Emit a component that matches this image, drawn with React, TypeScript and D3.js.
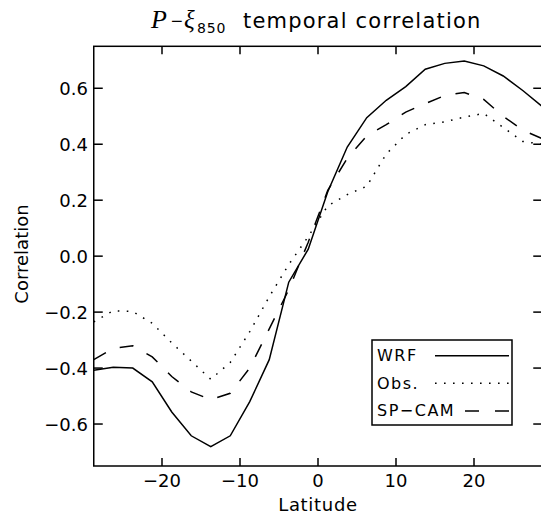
import React from "react";
import * as d3 from "d3";

const latitudes = [-28.75, -26.25, -23.75, -21.25, -18.75, -16.25, -13.75, -11.25, -8.75, -6.25, -3.75, -1.25, 1.25, 3.75, 6.25, 8.75, 11.25, 13.75, 16.25, 18.75, 21.25, 23.75, 26.25, 28.75];
const wrf = [-0.408, -0.397, -0.4, -0.449, -0.557, -0.642, -0.681, -0.642, -0.52, -0.37, -0.093, 0.025, 0.23, 0.39, 0.495, 0.557, 0.606, 0.668, 0.689, 0.697, 0.68, 0.644, 0.592, 0.535];
const obs = [-0.235, -0.195, -0.198, -0.24, -0.31, -0.375, -0.44, -0.38, -0.27, -0.145, -0.03, 0.07, 0.18, 0.22, 0.25, 0.365, 0.435, 0.47, 0.48, 0.497, 0.51, 0.46, 0.41, 0.4];
const spcam = [-0.37, -0.33, -0.32, -0.36, -0.43, -0.485, -0.513, -0.49, -0.4, -0.26, -0.12, 0.05, 0.235, 0.35, 0.43, 0.47, 0.515, 0.545, 0.574, 0.585, 0.56, 0.5, 0.45, 0.42];

const xTicks = [-20, -10, 0, 10, 20];
const yTicks = [-0.6, -0.4, -0.2, 0.0, 0.2, 0.4, 0.6];
const seriesNames = ["WRF", "Obs.", "SP\u2212CAM"];

const W = 541, H = 515;
const left = 93.75, right = 542.25, top = 46.3, bottom = 466;
const FONT = "DejaVu Sans";

export default function App() {
  const x = d3.scaleLinear().domain([-28.75, 28.75]).range([left, right]);
  const y = d3.scaleLinear().domain([-0.75, 0.75]).range([bottom, top]);
  const line = d3.line<number>().x((_, i) => x(latitudes[i])).y((d) => y(d));
  const fmt = (v: number) => {
    const s = Math.abs(v).toFixed(1);
    return (v < -1e-9 ? "\u2212" : "") + s;
  };
  const fmtX = (v: number) => (v < 0 ? "\u2212" + Math.abs(v) : String(v));
  const styles = [
    { dash: undefined as string | undefined },
    { dash: "1.6,7.4" },
    { dash: "14,15" },
  ];
  const data = [wrf, obs, spcam];
  return (
    <svg width={W} height={H} style={{ position: "absolute", left: 0, top: 0, background: "#fff" }}>
      <rect x={0} y={0} width={W} height={H} fill="#fff" />
      <defs>
        <clipPath id="plot">
          <rect x={left} y={top} width={right - left} height={bottom - top} />
        </clipPath>
      </defs>
      {/* Title */}
      <text y={28} fontFamily={FONT} fontSize={21} fill="#000">
        <tspan x={151} fontFamily="Liberation Serif" fontStyle="italic" fontSize={26}>P</tspan>
        <tspan x={171} fontFamily="Liberation Sans" fontSize={20}>{"\u2212"}</tspan>
        <tspan x={184} fontFamily="Liberation Serif" fontStyle="italic" fontSize={25}>ξ</tspan>
        <tspan x={197} fontSize={14} dy={5} letterSpacing={0.8}>850</tspan>
        <tspan x={243} dy={-5} letterSpacing={1.2}>temporal correlation</tspan>
      </text>
      {/* Lines */}
      <g clipPath="url(#plot)">
        {data.map((d, i) => (
          <path key={i} d={line(d) || ""} fill="none" stroke="#000" strokeWidth={1.5}
            strokeDasharray={styles[i].dash} />
        ))}
      </g>
      {/* Frame */}
      <rect x={left} y={top} width={right - left} height={bottom - top} fill="none" stroke="#000" strokeWidth={1.5} />
      {/* X ticks */}
      {xTicks.map((t) => (
        <g key={"x" + t}>
          <line x1={x(t)} x2={x(t)} y1={bottom} y2={bottom - 8} stroke="#000" strokeWidth={1.5} />
          <line x1={x(t)} x2={x(t)} y1={top} y2={top + 8} stroke="#000" strokeWidth={1.5} />
          <text x={x(t)} y={487} textAnchor="middle" fontFamily={FONT} fontSize={18} fill="#000">{fmtX(t)}</text>
        </g>
      ))}
      {/* Y ticks */}
      {yTicks.map((t) => (
        <g key={"y" + t}>
          <line x1={left} x2={left + 9} y1={y(t)} y2={y(t)} stroke="#000" strokeWidth={1.5} />
          <line x1={right} x2={right - 9} y1={y(t)} y2={y(t)} stroke="#000" strokeWidth={1.5} />
          <text x={88} y={y(t) + 6.5} textAnchor="end" fontFamily={FONT} fontSize={18} fill="#000">{fmt(t)}</text>
        </g>
      ))}
      {/* Axis titles */}
      <text x={318} y={511} textAnchor="middle" fontFamily={FONT} fontSize={18} letterSpacing={0.7} fill="#000">Latitude</text>
      <text transform="translate(28,254) rotate(-90)" textAnchor="middle" fontFamily={FONT} fontSize={18} fill="#000">Correlation</text>
      {/* Legend */}
      <rect x={372} y={340} width={140} height={85} fill="#fff" stroke="#000" strokeWidth={1.5} />
      {seriesNames.map((n, i) => (
        <g key={n}>
          <text x={377} y={361 + i * 27.6} fontFamily={FONT} fontSize={16} letterSpacing={1.5} fill="#000">{n}</text>
          <line x1={i === 2 ? 465 : 435} x2={509} y1={355.7 + i * 27.6} y2={355.7 + i * 27.6} stroke="#000" strokeWidth={1.5}
            strokeDasharray={i === 2 ? "14,16" : styles[i].dash} />
        </g>
      ))}
    </svg>
  );
}
